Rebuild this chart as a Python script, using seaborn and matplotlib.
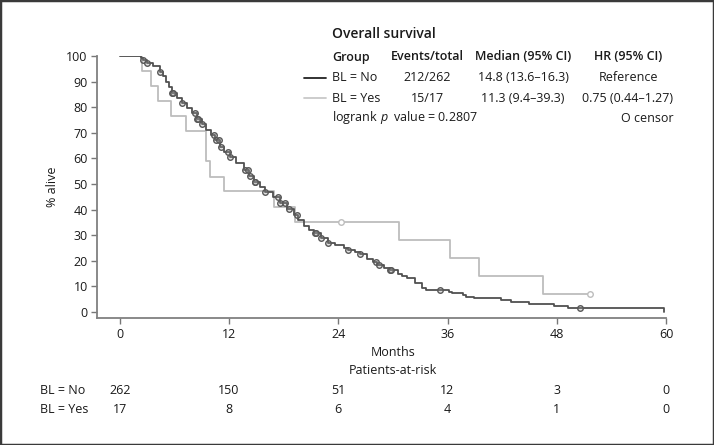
import numpy as np
import pandas as pd
import matplotlib
matplotlib.use("Agg")
import matplotlib.pyplot as plt
from matplotlib.patches import Rectangle
from matplotlib.transforms import blended_transform_factory
import seaborn as sns

# Kaplan-Meier curves (months, % alive)
no_t = [0, 2.3, 2.6, 3.0, 3.6, 4.4, 4.8, 5.1, 5.4, 5.7, 6.3, 6.8, 7.4, 7.9, 8.5, 9.0,
        9.5, 10.0, 10.5, 11.0, 11.5, 12.1, 12.8, 13.6, 14.2, 14.7, 15.4, 16.0, 16.8,
        17.6, 18.4, 19.1, 19.6, 20.2, 20.8, 21.3, 22.1, 22.9, 23.6, 24.6, 25.1, 25.8,
        26.4, 27.2, 27.8, 28.3, 29.0, 29.7, 30.6, 31.0, 31.6, 32.4, 33.2, 33.6, 36.2,
        36.5, 37.7, 38.0, 38.9, 41.9, 43.0, 45.0, 47.7, 49.2, 59.8]
no_s = [100, 99.2, 98.5, 97.4, 96.0, 93.9, 92.0, 90.0, 87.8, 85.4, 83.4, 81.5, 79.5,
        77.6, 75.4, 73.5, 71.1, 69.0, 67.0, 64.5, 62.5, 60.7, 58.3, 55.5, 53.0, 50.9,
        48.8, 47.0, 44.8, 42.5, 40.2, 37.9, 36.0, 33.6, 32.2, 30.7, 28.8, 26.8, 26.2,
        25.0, 24.2, 23.4, 22.7, 20.8, 19.5, 18.4, 17.3, 16.4, 15.0, 14.0, 13.2, 11.2,
        9.3, 8.6, 7.9, 7.3, 6.7, 6.0, 5.3, 4.7, 3.8, 3.1, 2.3, 1.4, 0.0]
no_censor = [2.6, 3.0, 4.4, 5.7, 5.8, 6.8, 8.3, 8.5, 8.6, 9.0, 10.3, 10.6, 10.9, 11.1,
             11.9, 12.1, 13.7, 14.1, 14.3, 14.8, 14.9, 16.0, 17.4, 17.6, 18.2, 18.6,
             19.5, 21.4, 21.5, 22.1, 22.9, 25.1, 26.4, 28.1, 28.5, 29.7, 29.8, 35.2, 50.5]

yes_t = [0, 2.4, 3.4, 4.2, 5.6, 7.3, 9.5, 9.9, 11.4, 16.9, 19.2, 30.7, 36.3, 39.5, 46.5, 51.6]
yes_s = [100, 94.1, 88.2, 82.4, 76.5, 70.6, 58.8, 52.9, 47.1, 41.2, 35.3, 28.2, 21.2,
         14.1, 7.1, 7.1]
yes_censor = [24.3, 51.6]

risk_times = [0, 12, 24, 36, 48, 60]
risk_no = [262, 150, 51, 12, 3, 0]
risk_yes = [17, 8, 6, 4, 1, 0]

headers = ["Group", "Events/total", "Median (95% CI)", "HR (95% CI)"]
row_no = ["BL = No", "212/262", "14.8 (13.6\u201316.3)", "Reference"]
row_yes = ["BL = Yes", "15/17", "11.3 (9.4\u201339.3)", "0.75 (0.44\u20131.27)"]

BLACK = "#505050"
GREY = "#bdbdbd"


def step_at(times, surv, t):
    idx = np.searchsorted(times, t, side="right") - 1
    return np.asarray(surv)[idx]


sns.set_theme(style="ticks")
plt.rcParams["font.family"] = ["Open Sans", "DejaVu Sans"]
plt.rcParams["mathtext.fontset"] = "custom"
plt.rcParams["mathtext.it"] = "Open Sans:italic"
plt.rcParams["mathtext.rm"] = "Open Sans"

W, H = 714, 445
fig = plt.figure(figsize=(W / 100, H / 100), dpi=100)
ax = fig.add_axes([97.5 / W, 1 - 318 / H, (666 - 97.5) / W, (318 - 56) / H])


def fx(px):
    return px / W


def fy(py):
    return 1 - py / H


sns.lineplot(x=yes_t, y=yes_s, drawstyle="steps-post", estimator=None, sort=False,
             color=GREY, lw=1.3, ax=ax)
sns.lineplot(x=no_t, y=no_s, drawstyle="steps-post", estimator=None, sort=False,
             color=BLACK, lw=1.3, ax=ax)
sns.scatterplot(x=yes_censor, y=step_at(yes_t, yes_s, yes_censor), marker="o", s=16,
                facecolor="white", edgecolor=GREY, linewidth=1.0, ax=ax, zorder=4)
sns.scatterplot(x=no_censor, y=step_at(no_t, no_s, no_censor), marker="o", s=16,
                facecolor=(0.6, 0.6, 0.6, 0.3), edgecolor="#585858", linewidth=1.0,
                ax=ax, zorder=5)

ax.set_xlim(-2.45, 60)
ax.set_ylim(-2.34, 100)
ax.set_xticks(risk_times)
ax.set_yticks(range(0, 101, 10))
ax.tick_params(axis="both", length=4, width=1, color="#777777", labelsize=9,
               labelcolor="#1a1a1a", pad=3)
for side in ["top", "right"]:
    ax.spines[side].set_visible(False)
for side in ["left", "bottom"]:
    ax.spines[side].set_color("#808080")
    ax.spines[side].set_linewidth(1.3)
ax.set_xlabel("")
ax.set_ylabel("")

txt = dict(color="#1a1a1a", fontsize=9, va="center")
fig.text(fx(53), fy(187), "% alive", rotation=90, ha="center", **txt)
fig.text(fx(393), fy(352), "Months", ha="center", **txt)
fig.text(fx(393), fy(371), "Patients-at-risk", ha="center", **txt)

tr = blended_transform_factory(ax.transData, fig.transFigure)
for yy, label, counts in [(390.5, "BL = No", risk_no), (409.5, "BL = Yes", risk_yes)]:
    fig.text(fx(40), fy(yy), label, ha="left", **txt)
    for t, c in zip(risk_times, counts):
        ax.text(t, fy(yy), str(c), transform=tr, ha="center", clip_on=False, **txt)

# legend block
fig.text(fx(332.5), fy(33.5), "Overall survival", ha="left", fontweight="semibold",
         color="#1a1a1a", fontsize=10, va="center")
col_x = [332.5, 427.5, 523, 628]
col_ha = ["left", "center", "center", "center"]
for x, h, ha in zip(col_x, headers, col_ha):
    fig.text(fx(x), fy(57), h, ha=ha, fontweight="semibold", **txt)
for yy, row in [(77.6, row_no), (98, row_yes)]:
    for x, s, ha in zip(col_x, row, col_ha):
        fig.text(fx(x), fy(yy), s, ha=ha, **txt)
fig.add_artist(plt.Line2D([fx(304), fx(326)], [fy(77.6), fy(77.6)], color="#222222", lw=1.3))
fig.add_artist(plt.Line2D([fx(304), fx(326)], [fy(98), fy(98)], color="#c8c8c8", lw=1.3))
fig.text(fx(332.5), fy(118), "logrank $\\,p\\,$ value = 0.2807", ha="left", **txt)
fig.text(fx(674), fy(118), "O censor", ha="right", **txt)

fig.add_artist(Rectangle((0, 0), 1, 1, transform=fig.transFigure, fill=False,
                         edgecolor="#3a3a3a", lw=2.5))

fig.savefig("out.png", dpi=100)
